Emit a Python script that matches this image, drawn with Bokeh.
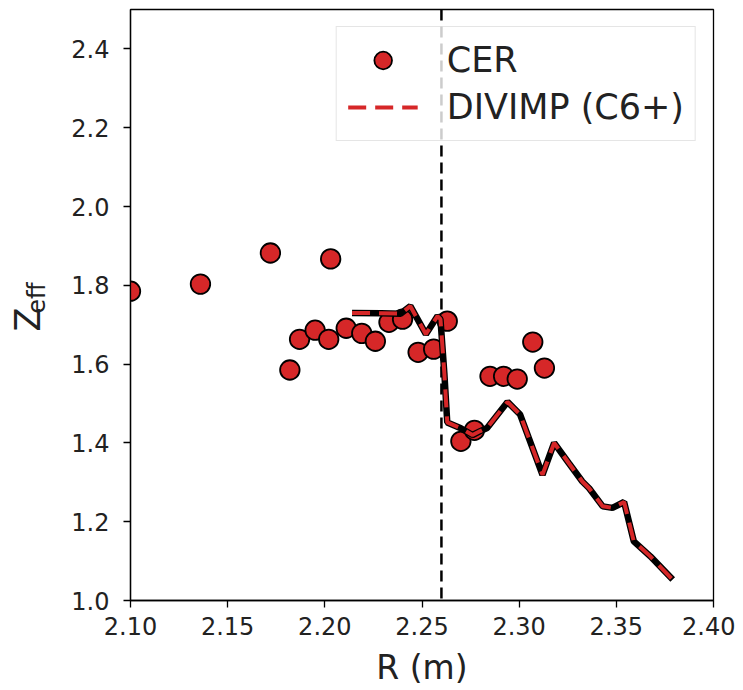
import math
from bokeh.plotting import figure
from bokeh.layouts import row
from bokeh.models import (ColumnDataSource, Span, Legend, LegendItem,
                          FixedTicker, PrintfTickFormatter, Range1d)
from bokeh.core.properties import value
from bokeh.embed import file_html
from bokeh.resources import INLINE

# CER measurements
cer_r = [2.100, 2.136, 2.172, 2.182, 2.187, 2.195, 2.202, 2.203, 2.211, 2.219,
         2.226, 2.233, 2.240, 2.248, 2.256, 2.263, 2.270, 2.277, 2.285, 2.292,
         2.299, 2.307, 2.313]
cer_z = [1.785, 1.803, 1.882, 1.585, 1.663, 1.686, 1.663, 1.867, 1.691, 1.678,
         1.658, 1.706, 1.714, 1.630, 1.638, 1.709, 1.404, 1.432, 1.569, 1.569,
         1.562, 1.656, 1.590]

# DIVIMP (C6+) profile
div_r = [2.214, 2.229, 2.239, 2.244, 2.252, 2.258, 2.2595, 2.2615, 2.263, 2.270,
         2.276, 2.280, 2.2835, 2.294, 2.3005, 2.312, 2.318, 2.3255, 2.3325, 2.336,
         2.343, 2.348, 2.354, 2.359, 2.3675, 2.379]
div_z = [1.730, 1.729, 1.728, 1.747, 1.676, 1.722, 1.714, 1.577, 1.452, 1.437,
         1.420, 1.430, 1.438, 1.504, 1.472, 1.319, 1.400, 1.349, 1.302, 1.285,
         1.239, 1.235, 1.250, 1.150, 1.112, 1.053]

separatrix_r = 2.26
x_ticks = [2.10, 2.15, 2.20, 2.25, 2.30, 2.35, 2.40]
y_ticks = [1.0, 1.2, 1.4, 1.6, 1.8, 2.0, 2.2, 2.4]

FONT = "DejaVu Sans"
RED = "#d62728"
TXT = "#222222"

LABEL_W = 64
TOP = 9
FRAME_H = 591
BOTTOM = 82
TOTAL_H = TOP + FRAME_H + BOTTOM

p = figure(output_backend="svg", toolbar_location=None,
           frame_width=583, frame_height=FRAME_H,
           min_border_left=130 - LABEL_W, min_border_right=22,
           min_border_top=TOP, min_border_bottom=BOTTOM,
           x_range=Range1d(2.10, 2.40), y_range=Range1d(1.0, 2.5))

p.grid.visible = False
p.outline_line_color = "black"
p.outline_line_width = 1.3
p.background_fill_color = "white"
p.border_fill_color = "white"

for ax in (p.xaxis[0], p.yaxis[0]):
    ax.axis_line_color = "black"
    ax.axis_line_width = 1.3
    ax.major_tick_line_color = "black"
    ax.major_tick_line_width = 1.3
    ax.major_tick_out = 7
    ax.major_tick_in = 0
    ax.minor_tick_out = 0
    ax.minor_tick_in = 0
    ax.major_label_text_font = FONT
    ax.major_label_text_font_size = "24px"
    ax.major_label_text_color = TXT

p.xaxis.ticker = FixedTicker(ticks=x_ticks)
p.yaxis.ticker = FixedTicker(ticks=y_ticks)
p.xaxis.formatter = PrintfTickFormatter(format="%.2f")
p.yaxis.formatter = PrintfTickFormatter(format="%.1f")
p.xaxis.major_label_standoff = 9
p.yaxis.major_label_standoff = 14

p.xaxis.axis_label = "R (m)"
p.xaxis.axis_label_text_font = FONT
p.xaxis.axis_label_text_font_size = "33px"
p.xaxis.axis_label_text_font_style = "normal"
p.xaxis.axis_label_text_color = TXT
p.xaxis.axis_label_standoff = 10

# separatrix
p.add_layout(Span(location=separatrix_r, dimension="height", line_color="black",
                  line_width=2.5, line_dash="11 6", level="underlay"))

src_cer = ColumnDataSource(dict(r=cer_r, z=cer_z))
src_div = ColumnDataSource(dict(r=div_r, z=div_z))

sc = p.scatter("r", "z", source=src_cer, size=19.5, fill_color=RED,
               line_color="black", line_width=1.8)
p.line("r", "z", source=src_div, line_color="black", line_width=6.5)
ln = p.line("r", "z", source=src_div, line_color=RED, line_width=4,
            line_dash="18 9")

legend = Legend(items=[LegendItem(label="CER", renderers=[sc]),
                       LegendItem(label="DIVIMP (C6+)", renderers=[ln])],
                location="top_right", margin=17,
                label_text_font=FONT, label_text_font_size="35px",
                label_text_color=TXT,
                glyph_width=70, glyph_height=44, label_height=44,
                label_standoff=29, spacing=3, padding=11,
                border_line_color="#cccccc", border_line_width=1.2,
                background_fill_color="white", background_fill_alpha=0.8)
p.add_layout(legend, "center")

# y axis label Z_eff drawn in a narrow side figure
lab = figure(output_backend="svg", toolbar_location=None,
             width=LABEL_W, height=TOTAL_H,
             min_border=0, x_range=Range1d(0, LABEL_W), y_range=Range1d(0, TOTAL_H))
lab.axis.visible = False
lab.grid.visible = False
lab.outline_line_color = None
lab.background_fill_color = "white"
lab.border_fill_color = "white"
lab.text(x=[27], y=[TOTAL_H - 362], text=["Z"], angle=math.pi / 2,
         text_align="center", text_baseline="middle",
         text_font=value(FONT), text_font_size="35px", text_color=TXT)
lab.text(x=[36], y=[TOTAL_H - 337], text=["eff"], angle=math.pi / 2,
         text_align="center", text_baseline="middle",
         text_font=value(FONT), text_font_size="24px", text_color=TXT)

layout = row(lab, p, spacing=0)
open("out.html", "w").write(file_html(layout, INLINE))
